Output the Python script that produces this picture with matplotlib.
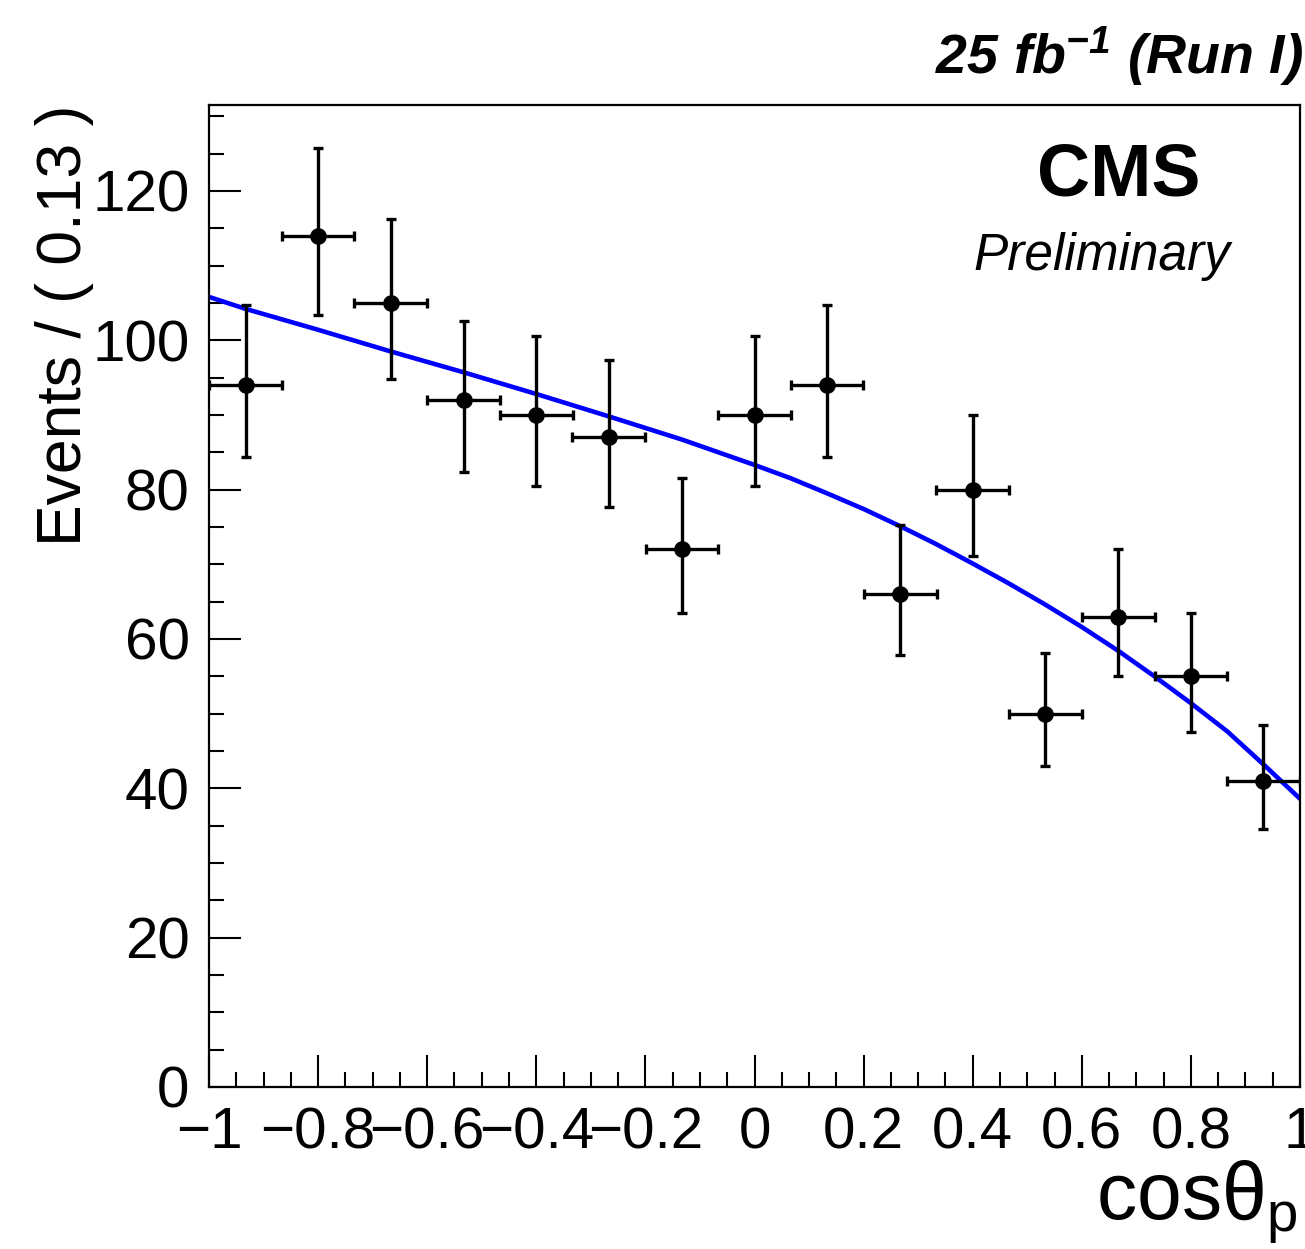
import matplotlib
matplotlib.use("Agg")
import matplotlib.pyplot as plt
from matplotlib.ticker import MultipleLocator

# bin centres of cos(theta_p), 15 bins between -1 and 1
BIN_CENTERS = [-0.933, -0.8, -0.667, -0.533, -0.4, -0.267, -0.133, 0.0,
               0.133, 0.267, 0.4, 0.533, 0.667, 0.8, 0.933]
EVENTS = [94, 114, 105, 92, 90, 87, 72, 90, 94, 66, 80, 50, 63, 55, 41]
ERR_LOW = [9.7, 10.6, 10.2, 9.6, 9.5, 9.3, 8.5, 9.5, 9.7, 8.1, 8.9, 7.0, 7.9, 7.4, 6.4]
ERR_HIGH = [10.7, 11.7, 11.3, 10.6, 10.5, 10.4, 9.5, 10.5, 10.7, 9.2, 10.0, 8.1, 9.0, 8.5, 7.5]

# fitted curve
FIT_X = [-1.0, -0.933, -0.8, -0.667, -0.533, -0.4, -0.267, -0.133, 0.0,
         0.067, 0.133, 0.2, 0.267, 0.333, 0.4, 0.467, 0.533, 0.6,
         0.667, 0.733, 0.8, 0.867, 0.933, 1.0]
FIT_Y = [105.8, 104.2, 101.4, 98.5, 95.7, 92.8, 89.8, 86.7, 83.3,
         81.5, 79.5, 77.4, 75.1, 72.7, 70.1, 67.4, 64.6, 61.6,
         58.4, 55.0, 51.4, 47.6, 43.2, 38.6]

BIN_HALF_WIDTH = 1.0 / 15

plt.rcParams['font.family'] = ['Liberation Sans', 'DejaVu Sans']
plt.rcParams['mathtext.fontset'] = 'custom'
plt.rcParams['mathtext.rm'] = 'Liberation Sans'
plt.rcParams['mathtext.it'] = 'Liberation Sans:italic'
plt.rcParams['mathtext.bf'] = 'Liberation Sans:italic:bold'


def fmt_x(v, _):
    if abs(v) < 1e-9:
        return '0'
    return ('%g' % round(v, 1)).replace('-', '\u2212')


def visual():
    fig = plt.figure(figsize=(13.05, 12.49), dpi=100)
    ax = fig.add_axes([209 / 1305, 162 / 1249, 1091 / 1305, 982 / 1249])

    ax.plot(FIT_X, FIT_Y, color='#0000ff', lw=3.3, zorder=2,
            solid_joinstyle='round')
    ax.errorbar(BIN_CENTERS, EVENTS, xerr=BIN_HALF_WIDTH, yerr=[ERR_LOW, ERR_HIGH],
                fmt='o', color='black', ms=11, elinewidth=2.4,
                capsize=3.5, capthick=2.4, zorder=3)

    ax.set_xlim(-1, 1)
    ax.set_ylim(0, 131.5)

    ax.xaxis.set_major_locator(MultipleLocator(0.2))
    ax.xaxis.set_minor_locator(MultipleLocator(0.05))
    ax.yaxis.set_major_locator(MultipleLocator(20))
    ax.yaxis.set_minor_locator(MultipleLocator(5))
    ax.xaxis.set_major_formatter(plt.FuncFormatter(fmt_x))

    ax.tick_params(which='both', direction='in', top=False, right=False,
                   labelsize=42, width=1.5)
    ax.tick_params(which='major', length=23)
    ax.tick_params(which='minor', length=11)
    ax.tick_params(axis='x', pad=14)
    ax.tick_params(axis='y', pad=14)
    for sp in ax.spines.values():
        sp.set_linewidth(1.6)

    fig.text(35 / 1305, 1 - 105 / 1249, 'Events / ( 0.13 )', rotation=90,
             ha='left', va='top', fontsize=45)
    fig.text(1298 / 1305, 1 - 1220 / 1249, 'cos\u03b8$_{\\mathrm{p}}$',
             ha='right', va='baseline', fontsize=58)

    fig.text(1303 / 1305, 1 - 74 / 1249, r'25 fb$^{\mathbf{-1}}$ (Run I)',
             ha='right', va='baseline', fontsize=40, fontweight='bold', style='italic')
    fig.text(1119 / 1305, 1 - 195 / 1249, 'CMS', ha='center', va='baseline',
             fontsize=53, fontweight='bold')
    fig.text(1102 / 1305, 1 - 270 / 1249, 'Preliminary', ha='center', va='baseline',
             fontsize=37, style='italic')

    fig.savefig('out.png', dpi=100)


if __name__ == '__main__':
    visual()
